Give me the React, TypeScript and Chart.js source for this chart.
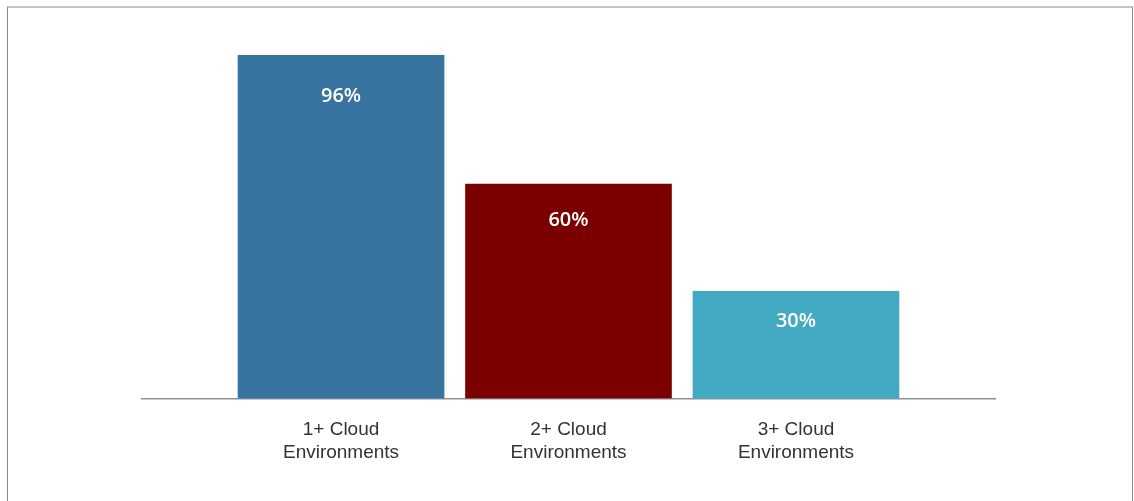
import React, { useEffect, useRef } from "react";
import { Chart, registerables } from "chart.js";

Chart.register(...registerables);

const categories: string[][] = [
  ["1+ Cloud", "Environments"],
  ["2+ Cloud", "Environments"],
  ["3+ Cloud", "Environments"],
];
const values: number[] = [96, 60, 30];
const valueLabels: string[] = ["96%", "60%", "30%"];
const barColors: string[] = ["#36739e", "#7a0000", "#42aac2"];
const labelOffsets: number[] = [40.5, 36.5, 30.5];

const valueLabelPlugin = {
  id: "valueLabels",
  afterDatasetsDraw(chart: any) {
    const ctx = chart.ctx;
    const meta = chart.getDatasetMeta(0);
    ctx.save();
    ctx.fillStyle = "#ffffff";
    ctx.font = "600 20px 'Open Sans'";
    ctx.textAlign = "center";
    ctx.textBaseline = "middle";
    meta.data.forEach((bar: any, i: number) => {
      ctx.fillText(valueLabels[i], bar.x, bar.y + labelOffsets[i]);
    });
    ctx.restore();
  },
};

export default function App() {
  const canvasRef = useRef<HTMLCanvasElement | null>(null);

  useEffect(() => {
    document.body.style.margin = "0";
    const canvas = canvasRef.current;
    if (!canvas) return;
    const chart = new Chart(canvas, {
      type: "bar",
      data: {
        datasets: [
          {
            data: values.map((v, i) => ({ x: i, y: v })),
            backgroundColor: barColors,
            borderWidth: 0,
            barThickness: 206,
          },
        ],
      },
      options: {
        animation: false,
        responsive: false,
        maintainAspectRatio: false,
        layout: { padding: { left: 142, right: 139, top: 41, bottom: 0 } },
        plugins: {
          legend: { display: false },
          tooltip: { enabled: false },
        },
        scales: {
          x: {
            type: "linear",
            offset: false,
            min: -0.875,
            max: 2.875,
            afterBuildTicks: (scale: any) => {
              scale.ticks = categories.map((_, i) => ({ value: i }));
            },
            afterFit: (scale: any) => {
              scale.height = 102.5;
            },
            grid: { display: false, drawTicks: false, offset: false },
            border: { display: true, color: "#8e8e9e", width: 1.5 },
            ticks: {
              padding: 20,
              color: "#333333",
              font: { family: "'Liberation Sans', Arial", size: 19, lineHeight: 1.2 },
              callback: (value: any) => categories[Math.round(Number(value))] ?? "",
            },
          },
          y: {
            display: false,
            min: 0,
            max: 100,
          },
        },
      },
      plugins: [valueLabelPlugin],
    });
    return () => chart.destroy();
  }, []);

  return (
    <div style={{ position: "relative", width: 1134, height: 501, overflow: "hidden", background: "#fff" }}>
      <div
        style={{
          position: "absolute",
          left: 7,
          top: 6,
          width: 1124,
          height: 600,
          borderTop: "2px solid #c4c4c4",
          borderLeft: "1px solid #8a8a8a",
          borderRight: "1px solid #8a8a8a",
        }}
      />
      <canvas
        ref={canvasRef}
        width={1134}
        height={501}
        style={{ position: "absolute", left: 0, top: 0, width: 1134, height: 501 }}
      />
    </div>
  );
}
